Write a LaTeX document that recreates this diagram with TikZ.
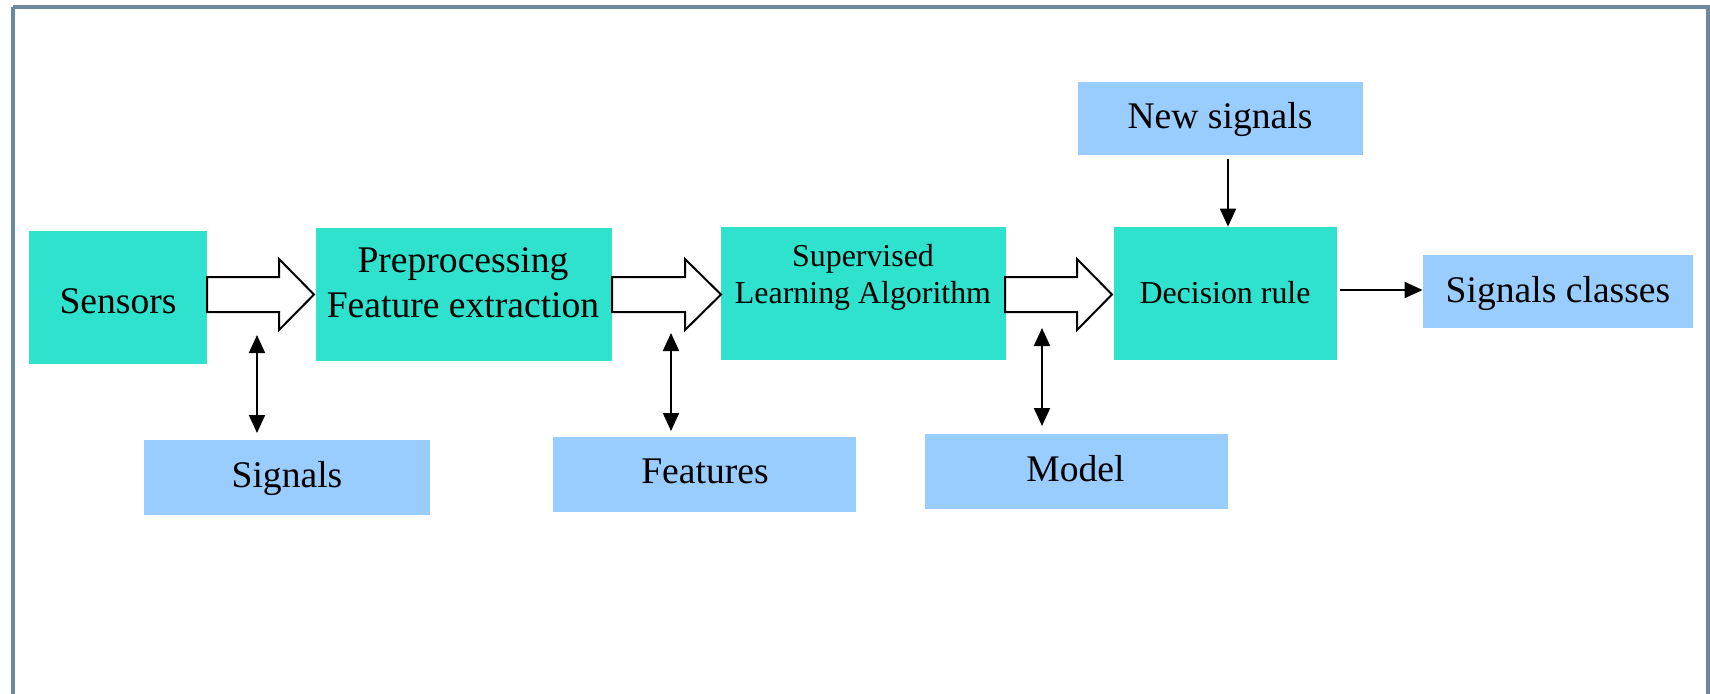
\documentclass[tikz,border=0pt]{standalone}
\usepackage{fontspec}
\setmainfont{Liberation Serif}
\usetikzlibrary{arrows.meta}
\definecolor{teal1}{HTML}{2EE2CE}
\definecolor{blue1}{HTML}{99CCFF}
\definecolor{frame1}{HTML}{6C889E}
\begin{document}
\begin{tikzpicture}[x=0.5pt,y=-0.5pt,
  tealbox/.style={fill=teal1,draw=none,inner sep=0pt,minimum height=66.5pt},
  bluebox/.style={fill=blue1,draw=none,inner sep=0pt},
  bigtxt/.style={anchor=base,inner sep=0pt,font=\fontsize{18.8}{22}\selectfont},
  smalltxt/.style={anchor=base,inner sep=0pt,font=\fontsize{15.95}{19}\selectfont},
  blockarr/.style={draw=black,fill=white,line width=1pt,line join=miter},
  thinarr/.style={line width=1pt,-{Triangle[length=9pt,width=8pt]}},
  dblarr/.style={line width=1pt,{Triangle[length=9pt,width=8pt]}-{Triangle[length=9pt,width=8pt]}}]
\useasboundingbox (0,0) rectangle (1710,693);
\draw[frame1,line width=2pt] (13,7) -- (1708,7) -- (1708,720) (13,7) -- (13,720);
% boxes
\node[tealbox,minimum width=89pt] (sens) at (118,297.5) {};
\node[tealbox,minimum width=148pt] (pre) at (464,294.5) {};
\node[tealbox,minimum width=142.5pt] (sup) at (863.5,293.5) {};
\node[tealbox,minimum width=111.5pt] (dec) at (1225.5,293.5) {};
\node[bluebox,minimum width=142.5pt,minimum height=36.5pt] (news) at (1220.5,118.5) {};
\node[bluebox,minimum width=143pt,minimum height=37.5pt] (sig) at (287,477.5) {};
\node[bluebox,minimum width=151.5pt,minimum height=37.5pt] (feat) at (704.5,474.5) {};
\node[bluebox,minimum width=151.5pt,minimum height=37.5pt] (mod) at (1076.5,471.5) {};
\node[bluebox,minimum width=135pt,minimum height=36.5pt] (cls) at (1558,291.5) {};
% texts
\node[bigtxt] (tsens) at (118,313) {Sensors};
\node[bigtxt] (tpre1) at (463,272) {Preprocessing};
\node[bigtxt] (tpre2) at (463,317) {Feature extraction};
\node[smalltxt] (tsup1) at (863,266) {Supervised};
\node[smalltxt] (tsup2) at (863,303) {Learning Algorithm};
\node[smalltxt] (tdec) at (1225,303) {Decision rule};
\node[bigtxt] (tnews) at (1220,128) {New signals};
\node[bigtxt] (tsig) at (287,487) {Signals};
\node[bigtxt] (tfeat) at (705,483) {Features};
\node[bigtxt] (tmod) at (1075.5,481) {Model};
\node[bigtxt] (tcls) at (1558,302) {Signals classes};
% block arrows
\draw[blockarr] (207,277) -- (279,277) -- (279,259) -- (314,294.5) -- (279,330) -- (279,312) -- (207,312) -- cycle;
\draw[blockarr] (612,277) -- (685,277) -- (685,259) -- (721,294.5) -- (685,330) -- (685,312) -- (612,312) -- cycle;
\draw[blockarr] (1005,277) -- (1077,277) -- (1077,259) -- (1112,294.5) -- (1077,330) -- (1077,312) -- (1005,312) -- cycle;
% double arrows
\coordinate (d1a) at (257,335); \coordinate (d1b) at (257,433);
\coordinate (d2a) at (671,333); \coordinate (d2b) at (671,431);
\coordinate (d3a) at (1042,328); \coordinate (d3b) at (1042,426);
\draw[dblarr] (d1a) -- (d1b);
\draw[dblarr] (d2a) -- (d2b);
\draw[dblarr] (d3a) -- (d3b);
% thin arrows
\coordinate (ns1) at (1228,159);
\draw[thinarr] (ns1) -- (ns1 |- dec.north);
\coordinate (ca) at (1340,290);
\draw[thinarr] (ca) -- (ca -| cls.west);
\end{tikzpicture}
\end{document}
